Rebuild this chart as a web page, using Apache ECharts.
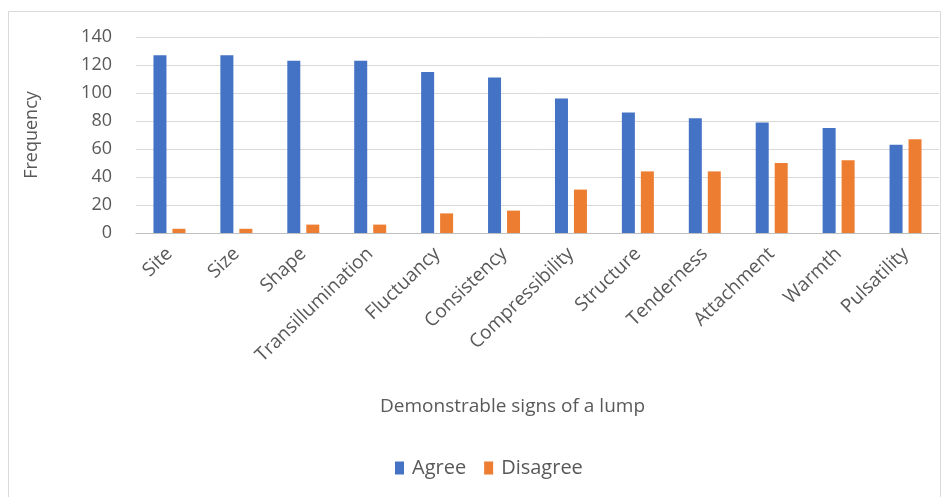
<!DOCTYPE html>
<html>
<head>
<meta charset="utf-8">
<script src="https://cdn.jsdelivr.net/npm/echarts@6/dist/echarts.min.js"></script>
<style>
  html, body { margin: 0; padding: 0; background: #ffffff; }
  #chart { width: 950px; height: 497px; }
</style>
</head>
<body>
<div id="chart"></div>
<script>
// Signs of a lump: how many respondents agree / disagree each is demonstrable
const categories = ['Site', 'Size', 'Shape', 'Transillumination', 'Fluctuancy', 'Consistency',
  'Compressibility', 'Structure', 'Tenderness', 'Attachment', 'Warmth', 'Pulsatility'];
const agree = [127, 127, 123, 123, 115, 111, 96, 86, 82, 79, 75, 63];
const disagree = [3, 3, 6, 6, 14, 16, 31, 44, 44, 50, 52, 67];
const seriesNames = ['Agree', 'Disagree'];
const yTicks = { min: 0, max: 140, interval: 20 };

const FONT = '"Open Sans", "Noto Sans", sans-serif';
const TEXT = '#595959';

const chart = echarts.init(document.getElementById('chart'), null, { renderer: 'canvas' });
chart.setOption({
  backgroundColor: '#ffffff',
  animation: false,
  graphic: [
    {
      type: 'rect',
      shape: { x: 8.5, y: 11.5, width: 932, height: 495 },
      style: { fill: 'none', stroke: '#d9d9d9', lineWidth: 1 }
    },
    {
      type: 'text',
      left: 380, top: 397,
      style: { text: 'Demonstrable signs of a lump', font: '19px ' + FONT, fill: TEXT }
    }
  ],
  legend: {
    data: seriesNames,
    left: 395,
    top: 458,
    itemWidth: 9,
    itemHeight: 13,
    itemGap: 18,
    icon: 'rect',
    textStyle: { color: TEXT, fontSize: 20, fontFamily: FONT, padding: [0, 0, 0, 3] },
    padding: [0, 0, 0, 0]
  },
  grid: { left: 136, right: 11, top: 37, bottom: 264, containLabel: false },
  xAxis: {
    type: 'category',
    data: categories,
    axisLine: { lineStyle: { color: '#bfbfbf', width: 1 } },
    axisTick: { show: false },
    axisLabel: {
      rotate: 44,
      interval: 0,
      margin: 18,
      color: TEXT,
      fontSize: 19,
      fontFamily: FONT
    }
  },
  yAxis: {
    type: 'value',
    min: yTicks.min,
    max: yTicks.max,
    interval: yTicks.interval,
    name: 'Frequency',
    nameLocation: 'middle',
    nameGap: 95,
    nameRotate: 90,
    nameTextStyle: { color: TEXT, fontSize: 18, fontFamily: FONT },
    axisLine: { show: false },
    axisTick: { show: false },
    axisLabel: { color: TEXT, fontSize: 18, fontFamily: FONT, margin: 24 },
    splitLine: { lineStyle: { color: '#d9d9d9', width: 1 } }
  },
  series: [
    {
      name: seriesNames[0],
      type: 'bar',
      data: agree,
      itemStyle: { color: '#4472c4' },
      barWidth: 13,
      barGap: '46%',
      barCategoryGap: '52%'
    },
    {
      name: seriesNames[1],
      type: 'bar',
      data: disagree,
      itemStyle: { color: '#ed7d31' },
      barWidth: 13
    }
  ]
});
</script>
</body>
</html>
